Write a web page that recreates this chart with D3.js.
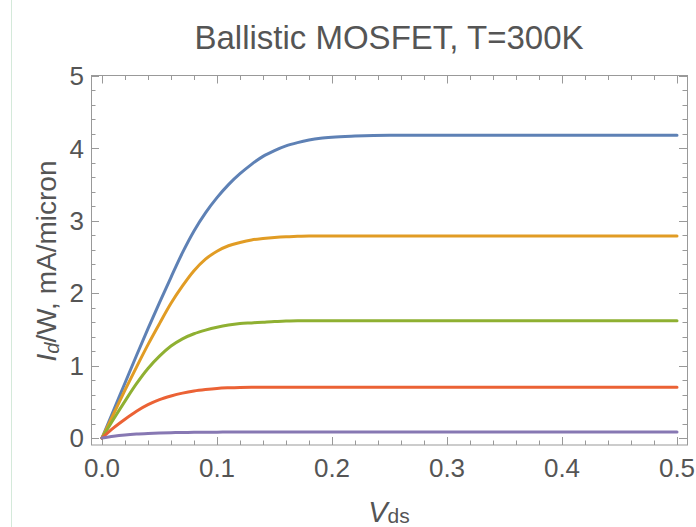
<!DOCTYPE html>
<html>
<head>
<meta charset="utf-8">
<script src="https://cdn.jsdelivr.net/npm/d3@7"></script>
<style>
  body { margin: 0; background: #fff; }
  svg { display: block; font-family: "Liberation Sans", Arial, sans-serif; }
</style>
</head>
<body>
<script>
// drain voltage samples (V)
let vds = [0, 0.01, 0.02, 0.03, 0.04, 0.05, 0.06, 0.07, 0.08, 0.09, 0.10,
  0.11, 0.12, 0.13, 0.14, 0.15, 0.16, 0.17, 0.18, 0.19, 0.20, 0.22, 0.25, 0.30, 0.40, 0.50];

// Id/W in mA/micron, one array per gate voltage
let idBlue   = [0, 0.38, 0.76, 1.14, 1.51, 1.87, 2.22, 2.56, 2.86, 3.11, 3.32,
  3.50, 3.65, 3.78, 3.89, 3.97, 4.035, 4.08, 4.115, 4.14, 4.155, 4.17, 4.18, 4.18, 4.18, 4.18];
let idOrange = [0, 0.33, 0.66, 0.98, 1.29, 1.58, 1.86, 2.10, 2.31, 2.47, 2.58,
  2.655, 2.70, 2.735, 2.755, 2.77, 2.78, 2.785, 2.79, 2.79, 2.79, 2.79, 2.79, 2.79, 2.79, 2.79];
let idGreen  = [0, 0.26, 0.51, 0.75, 0.96, 1.13, 1.27, 1.37, 1.44, 1.49, 1.53,
  1.56, 1.58, 1.59, 1.60, 1.61, 1.615, 1.62, 1.62, 1.62, 1.62, 1.62, 1.62, 1.62, 1.62, 1.62];
let idRed    = [0, 0.14, 0.26, 0.37, 0.46, 0.53, 0.58, 0.62, 0.65, 0.67, 0.685,
  0.693, 0.698, 0.70, 0.70, 0.70, 0.70, 0.70, 0.70, 0.70, 0.70, 0.70, 0.70, 0.70, 0.70, 0.70];
let idPurple = [0, 0.025, 0.043, 0.055, 0.063, 0.069, 0.073, 0.076, 0.078, 0.080, 0.081,
  0.0815, 0.082, 0.0825, 0.083, 0.083, 0.083, 0.083, 0.083, 0.083, 0.083, 0.083, 0.083, 0.083, 0.083, 0.083];

let series = [idBlue, idOrange, idGreen, idRed, idPurple];
let colors = ['#5e81b5', '#e19c24', '#8fb032', '#eb6235', '#8778b3'];

let xTicks = [0, 0.1, 0.2, 0.3, 0.4, 0.5];
let yTicks = [0, 1, 2, 3, 4, 5];

let width = 696;
let height = 527;

// frame box
let frame = { left: 91, right: 687, top: 75.5, bottom: 445 };

let svg = d3.select('body').append('svg').attr('width', width).attr('height', height);

let x = d3.scaleLinear().domain([0, 0.5]).range([102, 677]);
let y = d3.scaleLinear().domain([0, 5]).range([438, 76]);

// faint page edge line on the left
svg.append('line')
  .attr('x1', 11.5).attr('x2', 11.5)
  .attr('y1', 0).attr('y2', height)
  .attr('stroke', '#d4e9da').attr('stroke-width', 1);

// title
svg.append('text')
  .attr('x', (frame.left + frame.right) / 2)
  .attr('y', 49)
  .attr('text-anchor', 'middle')
  .attr('font-size', 33)
  .attr('fill', '#555')
  .text('Ballistic MOSFET, T=300K');

let tickColor = '#999';
let xMinor = d3.range(0, 0.5001, 0.02);
let yMinor = d3.range(0, 5.001, 0.2);

function isMajor(v, step) {
  return Math.abs(v / step - Math.round(v / step)) < 1e-6;
}

let ticks = svg.append('g').attr('stroke', tickColor).attr('stroke-width', 1);

// x ticks, bottom and top, pointing inward
xMinor.forEach(v => {
  let len = isMajor(v, 0.1) ? 8 : 4.5;
  let px = Math.round(x(v)) + 0.5;
  ticks.append('line').attr('x1', px).attr('x2', px).attr('y1', frame.bottom).attr('y2', frame.bottom - len);
  ticks.append('line').attr('x1', px).attr('x2', px).attr('y1', frame.top).attr('y2', frame.top + len);
});

// y ticks, left and right
yMinor.forEach(v => {
  let len = isMajor(v, 1) ? 8 : 4.5;
  let py = Math.round(y(v)) + 0.5;
  ticks.append('line').attr('x1', frame.left).attr('x2', frame.left + len).attr('y1', py).attr('y2', py);
  ticks.append('line').attr('x1', frame.right).attr('x2', frame.right - len).attr('y1', py).attr('y2', py);
});

// frame
svg.append('rect')
  .attr('x', frame.left + 0.5).attr('y', frame.top)
  .attr('width', frame.right - frame.left).attr('height', frame.bottom - frame.top)
  .attr('fill', 'none').attr('stroke', tickColor).attr('stroke-width', 1);

// tick labels
svg.append('g').selectAll('text')
  .data(xTicks)
  .enter()
    .append('text')
    .attr('x', d => x(d))
    .attr('y', 477)
    .attr('text-anchor', 'middle')
    .attr('font-size', 26)
    .attr('fill', '#555')
    .text(d => d3.format('.1f')(d));

svg.append('g').selectAll('text')
  .data(yTicks)
  .enter()
    .append('text')
    .attr('x', 84)
    .attr('y', d => y(d))
    .attr('dy', '0.35em')
    .attr('text-anchor', 'end')
    .attr('font-size', 26)
    .attr('fill', '#555')
    .text(d => d);

// axis labels
let xLab = svg.append('text')
  .attr('x', 389)
  .attr('y', 522)
  .attr('text-anchor', 'middle')
  .attr('fill', '#555');
xLab.append('tspan').attr('font-size', 29).attr('font-style', 'italic').text('V');
xLab.append('tspan').attr('font-size', 21).attr('dy', 1).text('ds');

let yLab = svg.append('text')
  .attr('transform', 'translate(56,261) rotate(-90)')
  .attr('text-anchor', 'middle')
  .attr('fill', '#555');
yLab.append('tspan').attr('font-size', 28).attr('font-style', 'italic').text('I');
yLab.append('tspan').attr('font-size', 20).attr('font-style', 'italic').attr('dy', 3).text('d');
yLab.append('tspan').attr('font-size', 28).attr('dy', -3).text('/W, mA/micron');

// curves
let line = d3.line()
  .x((d, i) => x(vds[i]))
  .y(d => y(d))
  .curve(d3.curveMonotoneX);

svg.append('g')
  .selectAll('path')
  .data(series)
  .enter()
    .append('path')
    .attr('d', d => line(d))
    .attr('fill', 'none')
    .attr('stroke', (d, i) => colors[i])
    .attr('stroke-width', 3)
    .attr('stroke-linecap', 'round');
</script>
</body>
</html>
